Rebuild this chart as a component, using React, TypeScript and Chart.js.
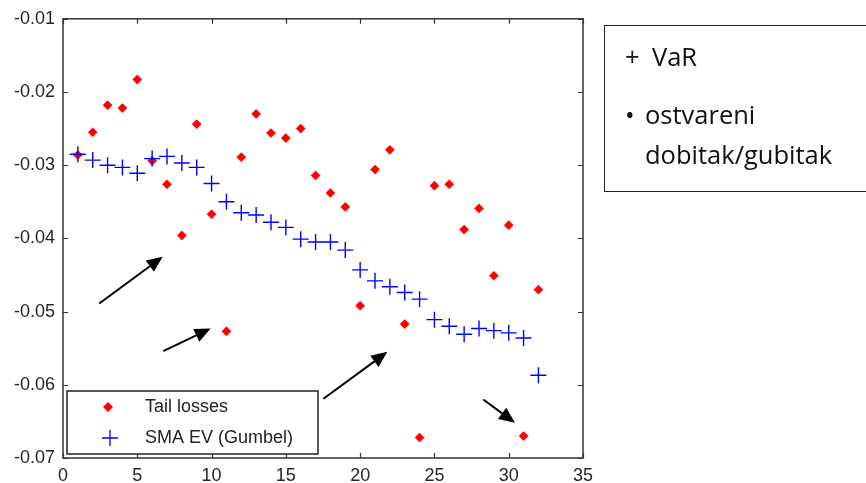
import React, { useEffect, useRef } from "react";
import { Chart, registerables } from "chart.js";

Chart.register(...registerables);

// ---- data ----
const xIndex = [1, 2, 3, 4, 5, 6, 7, 8, 9, 10, 11, 12, 13, 14, 15, 16, 17, 18, 19, 20, 21, 22, 23, 24, 25, 26, 27, 28, 29, 30, 31, 32];
const tailLosses = [-0.0286, -0.0255, -0.0218, -0.0222, -0.0183, -0.0294, -0.0326, -0.0396, -0.0244, -0.0367, -0.0527, -0.0289, -0.0230, -0.0256, -0.0263, -0.0250, -0.0314, -0.0338, -0.0357, -0.0492, -0.0306, -0.0279, -0.0517, -0.0672, -0.0328, -0.0326, -0.0388, -0.0359, -0.0451, -0.0382, -0.0670, -0.0470];
const smaEvGumbel = [-0.0285, -0.0293, -0.0300, -0.0303, -0.0311, -0.0291, -0.0288, -0.0297, -0.0303, -0.0325, -0.0350, -0.0365, -0.0368, -0.0378, -0.0385, -0.0401, -0.0405, -0.0405, -0.0416, -0.0443, -0.0458, -0.0466, -0.0474, -0.0483, -0.0511, -0.0520, -0.0531, -0.0523, -0.0526, -0.0529, -0.0536, -0.0587];
const seriesLabels = ["Tail losses", "SMA EV (Gumbel)"];
const xTicks = [0, 5, 10, 15, 20, 25, 30, 35];
const yTicks = [-0.07, -0.06, -0.05, -0.04, -0.03, -0.02, -0.01];
// arrow annotations (data units): tail -> tip
const arrowTails = [[2.44, -0.0489], [6.75, -0.0554], [17.53, -0.0619], [28.29, -0.0620]];
const arrowTips = [[6.71, -0.0425], [9.94, -0.0523], [21.83, -0.0555], [30.42, -0.0652]];
const noteBullets = ["+", "\u2022"];
const noteLines = ["VaR", "ostvareni", "dobitak/gubitak"];

const RED = "#ff0000";
const BLUE = "#0000ff";
const AXIS = "#333333";
const FONT = "'Liberation Sans', Arial, sans-serif";

const framePlugin = {
  id: "matlabFrame",
  afterDatasetsDraw(chart: any) {
    const { ctx, chartArea: a, scales } = chart;
    const xs = scales.x;
    const ys = scales.y;
    ctx.save();
    // frame
    ctx.strokeStyle = AXIS;
    ctx.lineWidth = 1.5;
    ctx.strokeRect(a.left, a.top, a.right - a.left, a.bottom - a.top);
    // inward ticks
    ctx.lineWidth = 1.2;
    ctx.beginPath();
    const tl = 5;
    xTicks.forEach((v) => {
      const px = Math.round(xs.getPixelForValue(v)) + 0.5;
      ctx.moveTo(px, a.bottom);
      ctx.lineTo(px, a.bottom - tl);
      ctx.moveTo(px, a.top);
      ctx.lineTo(px, a.top + tl);
    });
    yTicks.forEach((v) => {
      const py = Math.round(ys.getPixelForValue(v)) + 0.5;
      ctx.moveTo(a.left, py);
      ctx.lineTo(a.left + tl, py);
      ctx.moveTo(a.right, py);
      ctx.lineTo(a.right - tl, py);
    });
    ctx.stroke();

    // arrows
    ctx.strokeStyle = "#000";
    ctx.fillStyle = "#000";
    ctx.lineWidth = 2;
    arrowTails.forEach((t, i) => {
      const x1 = xs.getPixelForValue(t[0]);
      const y1 = ys.getPixelForValue(t[1]);
      const x2 = xs.getPixelForValue(arrowTips[i][0]);
      const y2 = ys.getPixelForValue(arrowTips[i][1]);
      const ang = Math.atan2(y2 - y1, x2 - x1);
      const hl = 16;
      const hw = 7;
      const bx = x2 - hl * Math.cos(ang);
      const by = y2 - hl * Math.sin(ang);
      ctx.beginPath();
      ctx.moveTo(x1, y1);
      ctx.lineTo(bx, by);
      ctx.stroke();
      ctx.beginPath();
      ctx.moveTo(x2, y2);
      ctx.lineTo(bx + hw * Math.sin(ang), by - hw * Math.cos(ang));
      ctx.lineTo(bx - hw * Math.sin(ang), by + hw * Math.cos(ang));
      ctx.closePath();
      ctx.fill();
    });

    // legend box inside plot
    const lx = a.left + 4;
    const lw = 251;
    const lh = 63;
    const ly = a.bottom - 4 - lh;
    ctx.fillStyle = "#fff";
    ctx.fillRect(lx, ly, lw, lh);
    ctx.strokeStyle = "#222";
    ctx.lineWidth = 1.5;
    ctx.strokeRect(lx, ly, lw, lh);
    const row1 = ly + 16;
    const row2 = ly + 47;
    // diamond
    ctx.fillStyle = RED;
    ctx.beginPath();
    const dx = lx + 41;
    ctx.moveTo(dx - 5, row1);
    ctx.lineTo(dx, row1 - 5);
    ctx.lineTo(dx + 5, row1);
    ctx.lineTo(dx, row1 + 5);
    ctx.closePath();
    ctx.fill();
    // cross
    ctx.strokeStyle = BLUE;
    ctx.lineWidth = 1.3;
    ctx.beginPath();
    const cx = lx + 43;
    ctx.moveTo(cx - 8, row2);
    ctx.lineTo(cx + 8, row2);
    ctx.moveTo(cx, row2 - 8);
    ctx.lineTo(cx, row2 + 8);
    ctx.stroke();
    ctx.fillStyle = "#222";
    ctx.font = `18px ${FONT}`;
    ctx.textBaseline = "middle";
    ctx.textAlign = "left";
    ctx.fillText(seriesLabels[0], lx + 78, row1);
    ctx.fillText(seriesLabels[1], lx + 78, row2);
    ctx.restore();
  },
};

function fmtY(v: number) {
  return v.toFixed(2);
}

export default function App() {
  const ref = useRef<HTMLCanvasElement | null>(null);

  useEffect(() => {
    if (!ref.current) return;
    const chart = new Chart(ref.current, {
      type: "scatter",
      data: {
        datasets: [
          {
            label: seriesLabels[1],
            data: xIndex.map((x, i) => ({ x, y: smaEvGumbel[i] })),
            pointStyle: "cross",
            pointRadius: 8,
            borderColor: BLUE,
            backgroundColor: BLUE,
            borderWidth: 1.4,
            order: 0,
          } as any,
          {
            label: seriesLabels[0],
            data: xIndex.map((x, i) => ({ x, y: tailLosses[i] })),
            pointStyle: "rectRot",
            pointRadius: 4.6,
            borderColor: RED,
            backgroundColor: RED,
            borderWidth: 0.5,
            order: 1,
          } as any,
        ],
      },
      options: {
        responsive: false,
        animation: false,
        events: [],
        layout: { padding: { top: 15, right: 283, left: 0, bottom: 0 } },
        plugins: {
          legend: { display: false },
          tooltip: { enabled: false },
        },
        scales: {
          x: {
            type: "linear",
            min: 0,
            max: 35,
            afterBuildTicks: (s: any) => {
              s.ticks = xTicks.map((v) => ({ value: v }));
            },
            afterFit: (s: any) => {
              s.height = 25;
            },
            grid: { display: false, drawTicks: false },
            border: { display: false },
            ticks: {
              padding: 7,
              color: "#262626",
              font: { family: FONT, size: 18 },
              callback: (v: any) => String(Math.round(Number(v))),
            },
          },
          y: {
            type: "linear",
            min: -0.07,
            max: -0.01,
            afterBuildTicks: (s: any) => {
              s.ticks = yTicks.map((v) => ({ value: v }));
            },
            afterFit: (s: any) => {
              s.width = 63;
            },
            grid: { display: false, drawTicks: false },
            border: { display: false },
            ticks: {
              padding: 8,
              color: "#262626",
              font: { family: FONT, size: 18 },
              callback: (v: any) => fmtY(Number(v)),
            },
          },
        },
      },
      plugins: [framePlugin],
    });
    return () => chart.destroy();
  }, []);

  const lineStyle = (top: number, left: number): React.CSSProperties => ({
    position: "absolute",
    top,
    left,
    fontFamily: "'Open Sans', sans-serif",
    fontSize: "25.5px",
    lineHeight: "25.5px",
    color: "#111",
    whiteSpace: "pre",
  });

  return (
    <div
      style={{
        position: "absolute",
        left: 0,
        top: 0,
        width: 866,
        height: 483,
        overflow: "hidden",
        background: "#fff",
      }}
    >
      <canvas ref={ref} width={866} height={483} style={{ display: "block" }} />
      <div
        style={{
          position: "absolute",
          left: 604,
          top: 25,
          width: 300,
          height: 167,
          border: "1.5px solid #222",
          boxSizing: "border-box",
        }}
      />
      <div style={lineStyle(44, 625)}>{noteBullets[0]}</div>
      <div style={lineStyle(44, 652)}>{noteLines[0]}</div>
      <div style={lineStyle(102, 625)}>{noteBullets[1]}</div>
      <div style={lineStyle(102, 645)}>{noteLines[1]}</div>
      <div style={lineStyle(142, 645)}>{noteLines[2]}</div>
    </div>
  );
}
